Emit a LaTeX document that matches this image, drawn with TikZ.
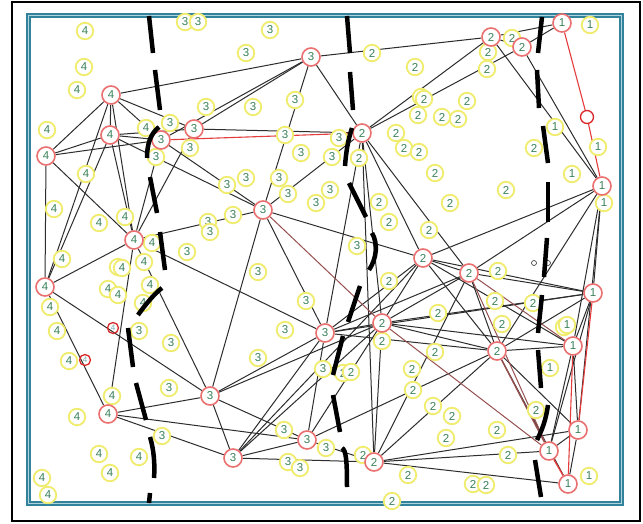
\documentclass[tikz,border=0pt]{standalone}
\usepackage{fontspec}
\setsansfont{Liberation Sans}
\definecolor{ycol}{RGB}{240,236,110}
\definecolor{rcol}{RGB}{234,112,112}
\definecolor{gcol}{RGB}{58,130,90}
\definecolor{ecol}{RGB}{45,45,45}
\definecolor{redge}{RGB}{228,60,60}
\definecolor{dredge}{RGB}{150,80,80}
\definecolor{sred}{RGB}{218,40,40}
\definecolor{faint}{RGB}{120,170,170}
\definecolor{teal1}{RGB}{50,130,155}
\definecolor{teal2}{RGB}{175,212,222}
\pgfdeclarelayer{bg}
\pgfsetlayers{bg,main}
\begin{document}
\begin{tikzpicture}[x=1pt,y=-1pt,
  yn/.style={circle,draw=ycol,line width=1.8pt,fill=white,minimum size=16.5pt,inner sep=0pt,text=gcol,font=\fontsize{11.5}{11.5}\sffamily},
  rn/.style={circle,draw=rcol,line width=1.6pt,fill=white,minimum size=18pt,inner sep=0pt,text=gcol,font=\fontsize{11.5}{11.5}\sffamily},
  sr/.style={circle,draw=sred,line width=1.3pt,minimum size=11pt,inner sep=0pt,text=faint,font=\fontsize{8}{8}\sffamily},
  tiny/.style={circle,draw=ecol,line width=0.6pt,minimum size=5pt,inner sep=0pt},
  ed/.style={draw=ecol,line width=1pt},
  re/.style={draw=redge,line width=1.1pt},
  de/.style={draw=dredge,line width=1pt},
  dsh/.style={line width=4.5pt,black}]
\useasboundingbox (0,0) rectangle (643,524);
\begin{pgfonlayer}{bg}
\fill[white] (0,0) rectangle (643,524);
\end{pgfonlayer}
% frames
\draw[black,line width=2.5pt] (12,2) rectangle (640,521);
\draw[teal1,line width=5pt] (28,16) rectangle (621,503);
\draw[teal2,line width=1pt] (28,16) rectangle (621,503);
% yellow nodes
\foreach \t/\x/\y [count=\i] in {
 4/85/31, 4/84/67, 4/77/90, 4/47/130, 4/86/174, 4/146/128, 4/54/209, 4/99/223, 4/125/217, 4/152/243,
 4/62/259, 4/118/267, 4/122/268, 4/144/262, 4/150/285, 4/108/289, 4/118/295, 4/143/303, 4/50/307, 4/57/331,
 4/69/361, 4/112/396, 4/77/417, 4/99/454, 4/139/457, 4/110/473, 4/42/478, 4/48/495,
 3/185/22, 3/198/22, 3/270/30, 3/246/53, 3/206/107, 3/170/123, 3/156/157, 3/190/148, 3/253/107, 3/295/100,
 3/285/135, 3/339/138, 3/332/157, 3/301/153, 3/246/178, 3/279/178, 3/227/185, 3/288/194, 3/316/203, 3/330/190,
 3/233/215, 3/208/222, 3/210/232, 3/187/252, 3/357/246, 3/258/272, 3/306/301, 3/285/330, 3/139/331, 3/171/343,
 3/169/388, 3/258/358, 3/323/369, 3/162/436, 3/284/430, 3/326/448, 3/288/462, 3/300/468,
 2/372/53, 2/415/67, 2/488/52, 2/512/38, 2/487/69, 2/421/97, 2/424/99, 2/418/115, 2/467/101, 2/442/117,
 2/458/119, 2/396/133, 2/404/148, 2/419/152, 2/359/158, 2/534/148, 2/435/173, 2/379/202, 2/450/203, 2/506/190,
 2/389/222, 2/429/230, 2/389/281, 2/498/271, 2/495/301, 2/533/303, 2/438/313, 2/502/324, 2/382/341, 2/435/352,
 2/343/373, 2/351/372, 2/412/369, 2/413/390, 2/433/406, 2/452/416, 2/446/438, 2/536/410, 2/497/430, 2/508/455,
 2/363/455, 2/408/475, 2/392/501, 2/473/484, 2/486/485,
 1/590/25, 1/555/127, 1/598/147, 1/572/174, 1/604/203, 1/564/327, 1/567/325, 1/550/368, 1/589/476}
 \node[yn] (y\i) at (\x,\y) {\t};
% red nodes
\node[rn] (a4) at (111,95) {4};
\node[rn] (b4) at (110,135) {4};
\node[rn] (c4) at (46,156) {4};
\node[rn] (d4) at (134,240) {4};
\node[rn] (e4) at (45,287) {4};
\node[sr] (f4) at (113,328) {4};
\node[sr] (g4) at (85,360) {4};
\node[rn] (h4) at (108,414) {4};
\node[rn] (a3) at (161,140) {3};
\node[rn] (b3) at (194,129) {3};
\node[rn] (c3) at (311,57) {3};
\node[rn] (d3) at (263,210) {3};
\node[rn] (e3) at (325,333) {3};
\node[rn] (f3) at (210,396) {3};
\node[rn] (g3) at (307,440) {3};
\node[rn] (h3) at (233,458) {3};
\node[rn] (a2) at (362,133) {2};
\node[rn] (b2) at (491,37) {2};
\node[rn] (c2) at (522,47) {2};
\node[rn] (d2) at (423,258) {2};
\node[rn] (e2) at (469,273) {2};
\node[rn] (f2) at (382,323) {2};
\node[rn] (g2) at (497,351) {2};
\node[rn] (h2) at (374,462) {2};
\node[rn] (a1) at (562,23) {1};
\node[sr,minimum size=13pt] (b1) at (587,117) {};
\node[rn] (c1) at (602,186) {1};
\node[rn] (d1) at (593,293) {1};
\node[rn] (e1) at (573,346) {1};
\node[rn] (f1) at (578,430) {1};
\node[rn] (g1) at (549,451) {1};
\node[rn] (h1) at (568,484) {1};
\node[tiny] (o1) at (534,263) {};
\node[tiny] (o2) at (548,263) {};
% edges
\begin{pgfonlayer}{bg}
\foreach \p/\q in {a4/c3, a4/c4, a4/b4, a4/a3, a4/b3, a4/e4, a4/d4,
  b4/c4, b4/a3, b4/b3, b4/e4, b4/d4, b4/d3,
  c4/a3, c4/e4, c4/d4,
  a3/c3, a3/d3, a3/d4, b3/a2, b3/c3, b3/d4,
  c3/b2, c3/a2, c3/d3,
  d4/d3, d4/e3, d4/h4, d4/f3, e4/d4, e4/f3, e4/h4,
  h4/f3, h4/g3, h4/h3,
  d3/e3, d3/f3, d3/d2, d3/a2,
  e3/a2, e3/f2, e3/d2, e3/e2, e3/d1, e3/f3, e3/h3, e3/g3, e3/g2,
  f3/f2, f3/g3, f3/h3, g3/f2, g3/g2, g3/h2, g3/h3,
  h3/h2, h3/f2, h3/d2,
  a2/b2, a2/c2, a2/d2, a2/e2, a2/h2, a2/f2,
  b2/a1, b2/c1, b2/c2, c2/a1, c2/c1,
  c1/d2, c1/e2, c1/g2, c1/d1, c1/e1, c1/f1,
  d2/e2, d2/f2, d2/g2, d2/d1, d2/e1,
  e2/d1, e2/g2, e2/f2, e2/h2,
  f2/g2, f2/e1, f2/d1, f2/h2,
  g2/f1, g2/e1, g2/d1, g2/h2, g2/h1,
  h2/f1, h2/g1, h2/h1,
  d1/e1, d1/g1, e1/f1, e1/g1, f1/g1, f1/h1}
  \draw[ed] (\p) -- (\q);
\draw[re] (a3) -- (a2);
\draw[re] (a1) -- (b1);
\draw[re] (b1) -- (c1);
\draw[re] (d1) -- (f1);
\draw[re] (e1) -- (h1);
\draw[re,line width=1.4pt] (g1) -- (h1);
\draw[de] (d3) -- (f2);
\draw[de] (e2) -- (e1);
\draw[de] (e2) -- (g1);
\draw[de] (f2) -- (g1);
\draw[de,line width=1.4pt] (g2) -- (g1);
\end{pgfonlayer}
% thick dashed separators
\draw[dsh] (149,16)--(153,53);
\draw[dsh] (155,70)--(160,110);
\draw[dsh] (159,127) .. controls (150,134) and (147,145) .. (147,158);
\draw[dsh] (150,177)--(157,213);
\draw[dsh] (160,232)--(165,270);
\draw[dsh] (162,288) .. controls (155,293) and (145,305) .. (138,315);
\draw[dsh] (128,328)--(133,367);
\draw[dsh] (136,383)--(146,420);
\draw[dsh] (150,437) .. controls (154,450) and (155,465) .. (154,478);
\draw[dsh] (150,493)--(149,503);
\draw[dsh] (347,16)--(350,53);
\draw[dsh] (350,72)--(353,110);
\draw[dsh] (352,128) .. controls (348,140) and (346,152) .. (345,166);
\draw[dsh] (349,183)--(366,217);
\draw[dsh] (372,233) .. controls (378,243) and (377,258) .. (369,270);
\draw[dsh] (360,286)--(348,322);
\draw[dsh] (343,336)--(333,375);
\draw[dsh] (333,395)--(340,432);
\draw[dsh] (342,448) .. controls (346,450) and (347,460) .. (347,487);
\draw[dsh] (542,17)--(538,53);
\draw[dsh] (537,70)--(539,108);
\draw[dsh] (543,126)--(548,163);
\draw[dsh] (548,182)--(548,222);
\draw[dsh] (547,238)--(544,277);
\draw[dsh] (542,295)--(538,333);
\draw[dsh] (538,350)--(541,388);
\draw[dsh] (548,405) .. controls (546,420) and (542,430) .. (537,440);
\draw[dsh] (535,460)--(541,497);
\end{tikzpicture}
\end{document}
